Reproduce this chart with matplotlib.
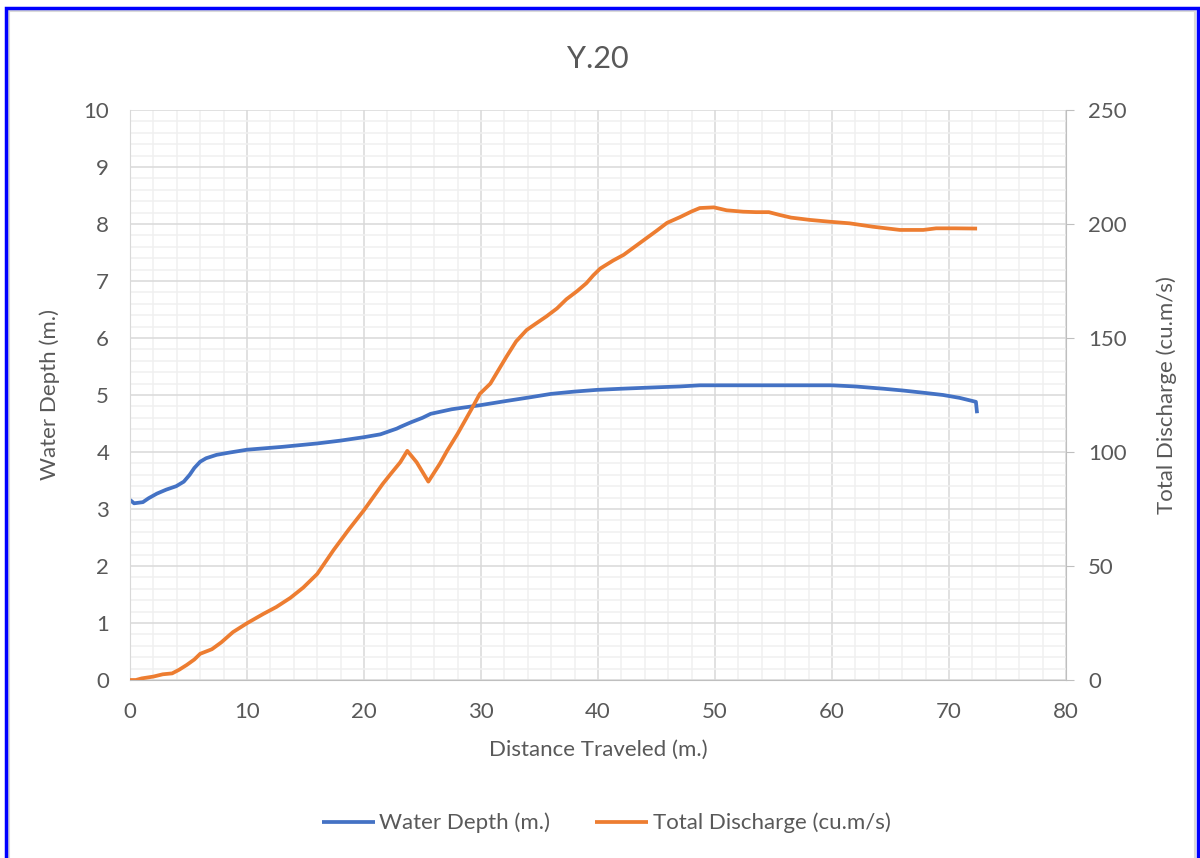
import matplotlib
matplotlib.use("Agg")
import matplotlib.pyplot as plt
from matplotlib.patches import Rectangle
from matplotlib.ticker import MultipleLocator

plt.rcParams['font.family'] = ['Lato', 'DejaVu Sans']

# Water depth (left axis)
depth_x = [0, 0.35, 1.1, 1.6, 2.3, 3.1, 3.95, 4.6, 5.1, 5.5, 6.0, 6.5, 7.4, 8.5, 10, 13, 16, 18,
           20, 21.4, 22.8, 23.1, 24, 25, 25.7, 27.5, 29.9, 32, 34.2, 36, 38, 39.9, 42, 44.4, 47,
           48.7, 52, 56, 60, 62, 64.4, 66, 67.8, 69.5, 70.9, 72.3, 72.4]
depth_y = [3.16, 3.1, 3.12, 3.19, 3.27, 3.34, 3.40, 3.48, 3.6, 3.72, 3.83, 3.89, 3.95, 3.99, 4.04,
           4.09, 4.15, 4.2, 4.26, 4.31, 4.41, 4.44, 4.52, 4.6, 4.67, 4.75, 4.82, 4.89, 4.96, 5.02,
           5.06, 5.09, 5.11, 5.13, 5.15, 5.17, 5.17, 5.17, 5.17, 5.15, 5.11, 5.08, 5.04, 5.0, 4.95,
           4.88, 4.68]

# Total discharge (right axis)
q_x = [0, 0.5, 1.0, 2.0, 2.8, 3.6, 4.2, 4.85, 5.5, 6.0, 7.0, 7.8, 8.8, 10.0, 11.4, 12.5, 13.7,
       14.8, 16.0, 17.4, 18.7, 20.0, 21.6, 22.3, 23.1, 23.7, 24.5, 25.5, 26.5, 27.1, 28.0, 29.1,
       29.9, 30.8, 31.5, 32.2, 33.0, 33.9, 34.6, 35.6, 36.5, 37.3, 38.2, 39.0, 39.6, 40.2, 41.3,
       42.2, 43.0, 44.2, 45.0, 45.9, 47.0, 48.0, 48.7, 49.9, 51.0, 52.4, 53.5, 54.6, 55.5, 56.5,
       58.1, 59.8, 61.5, 63.5, 65.8, 67.8, 68.9, 70.5, 72.4]
q_y = [0, 0, 0.7, 1.5, 2.5, 2.9, 4.5, 6.6, 9.0, 11.5, 13.5, 16.5, 21.0, 24.9, 29.0, 32.0, 36.0,
       40.5, 46.5, 57.0, 66.0, 74.5, 86.0, 90.5, 95.5, 100.5, 95.5, 87.0, 95.0, 100.5, 108.0,
       118.0, 125.5, 130.0, 136.0, 142.0, 148.5, 153.5, 156.0, 159.5, 163.0, 167.0, 170.5, 174.0,
       177.5, 180.5, 184.0, 186.5, 189.5, 194.0, 197.0, 200.5, 203.0, 205.5, 207.0, 207.3, 206.0,
       205.4, 205.2, 205.2, 204.0, 202.8, 201.8, 201.0, 200.3, 198.8, 197.4, 197.4, 198.1, 198.1,
       198.0]

txt = '#595959'
blue = '#4472C4'
orange = '#ED7D31'

fig = plt.figure(figsize=(12, 8.58), dpi=100)
ax = fig.add_axes([130 / 1200, 1 - 680 / 858, 936 / 1200, 570 / 858])
ax2 = ax.twinx()

# gridlines
ax.set_xlim(0, 80)
ax.set_ylim(0, 10)
ax.xaxis.set_major_locator(MultipleLocator(10))
ax.xaxis.set_minor_locator(MultipleLocator(2))
ax.yaxis.set_major_locator(MultipleLocator(1))
ax.yaxis.set_minor_locator(MultipleLocator(0.2))
ax.grid(which='major', color='#d9d9d9', lw=1.1)
ax.grid(which='minor', color='#f0f0f0', lw=1.1)
ax.set_axisbelow(True)

ax.plot(depth_x, depth_y, color=blue, lw=2.7, label='Water Depth (m.)', solid_capstyle='butt')
ax2.plot(q_x, q_y, color=orange, lw=2.7, label='Total Discharge (cu.m/s)', solid_capstyle='butt')
ax2.set_ylim(0, 250)
ax2.yaxis.set_major_locator(MultipleLocator(50))

for a in (ax, ax2):
    for s in a.spines.values():
        s.set_visible(False)
ax2.spines['right'].set_visible(True)
ax2.spines['right'].set_color('#bfbfbf')
ax.spines['bottom'].set_visible(True)
ax.spines['bottom'].set_color('#bfbfbf')
ax.spines['left'].set_visible(True)
ax.spines['left'].set_color('#d9d9d9')

ax.tick_params(axis='both', which='both', length=0, labelsize=16, labelcolor=txt)
ax.tick_params(axis='y', pad=15)
ax.tick_params(axis='x', pad=16)
ax2.tick_params(axis='y', length=6, color='#bfbfbf', labelsize=16, labelcolor=txt, pad=10)

ax.set_title('Y.20', fontsize=22, color=txt, pad=30)
ax.set_xlabel('Distance Traveled (m.)', fontsize=16, color=txt, labelpad=13)
ax.set_ylabel('Water Depth (m.)', fontsize=16, color=txt, labelpad=17)
ax2.set_ylabel('Total Discharge (cu.m/s)', fontsize=16, color=txt, labelpad=21)

h1, l1 = ax.get_legend_handles_labels()
h2, l2 = ax2.get_legend_handles_labels()
fig.legend(h1 + h2, l1 + l2, loc='center', bbox_to_anchor=(0.505, 1 - 823 / 858), ncol=2,
           frameon=False, fontsize=16, labelcolor=txt, handlelength=2.4, handletextpad=0.2,
           columnspacing=2.0)

# blue frame round the chart
fig.patches.append(Rectangle((8.5 / 1200, -0.05), 1186 / 1200, 1.05 - 10.5 / 858,
                             transform=fig.transFigure, fill=False, ec='#d9d9d9', lw=1.5))
fig.patches.append(Rectangle((5.5 / 1200, -0.05), 1192 / 1200, 1.05 - 8 / 858,
                             transform=fig.transFigure, fill=False, ec='#0000ff', lw=2.5))

fig.savefig('out.png', dpi=100, facecolor='white')
